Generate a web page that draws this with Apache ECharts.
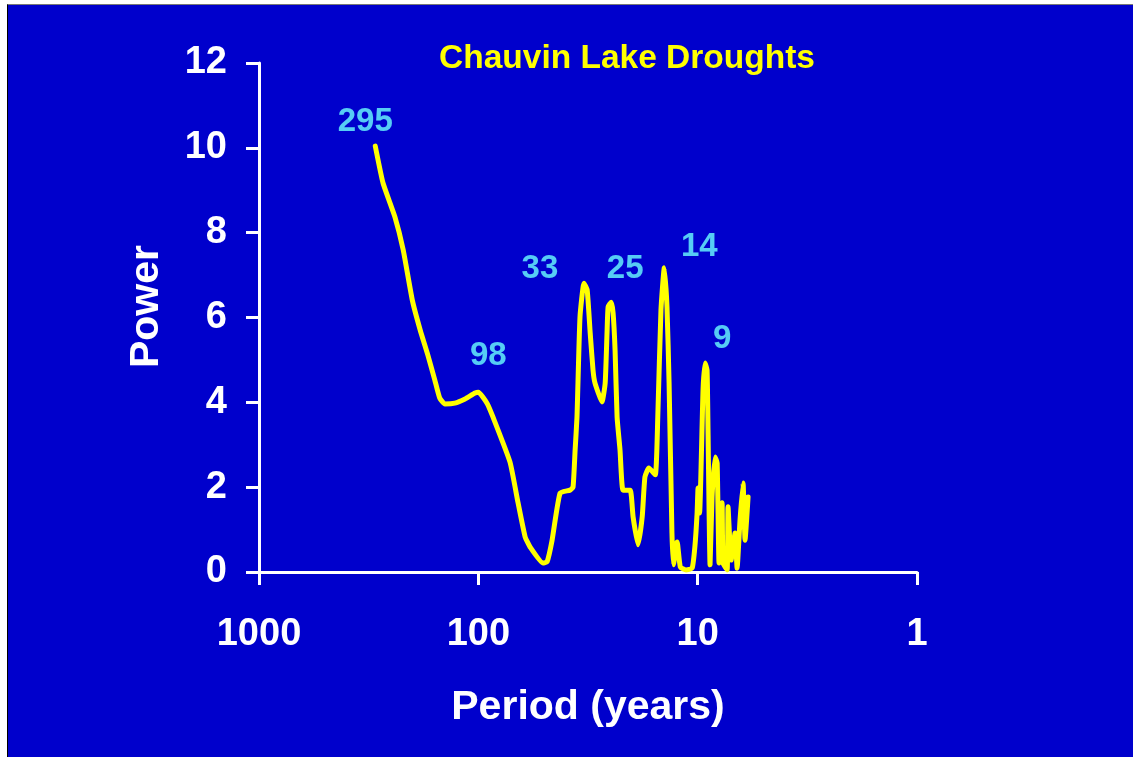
<!DOCTYPE html>
<html>
<head>
<meta charset="utf-8">
<script src="https://cdn.jsdelivr.net/npm/echarts@6/dist/echarts.min.js"></script>
<style>
  html, body { margin: 0; padding: 0; background: #ffffff; width: 1133px; height: 757px; overflow: hidden; }
  #bg { position: absolute; left: 7px; top: 4px; width: 1126px; height: 753px; background: #0000CC;
        border-left: 1px solid #000; border-top: 1px solid #777; box-sizing: border-box; }
  #chart { position: absolute; left: 0; top: 0; width: 1133px; height: 757px; }
</style>
</head>
<body>
<div id="bg"></div>
<div id="chart"></div>
<script>
// ---- data ----
const titleText = 'Chauvin Lake Droughts';
const xAxisName = 'Period (years)';
const yAxisName = 'Power';

const periods = [295, 272, 240, 220, 200, 184, 170, 158, 150, 142, 128, 115, 103.5, 100,
  91.3, 85.7, 71.7, 65.9, 61.2, 58.1, 50.7, 48.6, 46.1, 42.4, 38.2, 37.0, 36.2, 35.5, 34.4,
  33.0, 31.9, 30.9, 30.0, 29.4, 27.3, 26.4, 25.9, 25.6, 24.8, 24.3, 23.8, 23.3, 22.6, 21.9,
  20.3, 19.7, 18.7, 17.9, 17.4, 16.7, 15.6, 15.2, 14.7, 14.2, 13.8, 13.5, 13.1, 12.9, 12.4,
  12.0, 11.3, 10.6, 10.3, 10.06, 9.96, 9.8, 9.45, 9.25, 9.06, 8.97, 8.78, 8.60, 8.33, 8.15,
  7.99, 7.74, 7.66, 7.34, 7.27, 7.04, 6.75, 6.61, 6.41, 6.21, 6.08, 5.89];
const powers = [10.04, 9.17, 8.37, 7.59, 6.41, 5.70, 5.12, 4.53, 4.10, 3.96, 3.98, 4.08, 4.22, 4.24,
  3.98, 3.65, 2.59, 1.63, 0.83, 0.59, 0.21, 0.24, 0.75, 1.86, 1.93, 2.00, 2.88, 3.65, 6.01,
  6.81, 6.65, 5.63, 4.76, 4.46, 4.01, 4.46, 5.63, 6.25, 6.36, 6.11, 5.23, 3.65, 2.88, 1.93,
  1.93, 1.30, 0.64, 1.30, 2.24, 2.45, 2.29, 3.65, 6.18, 7.17, 6.25, 4.46, 0.92, 0.17, 0.71,
  0.12, 0.05, 0.09, 0.59, 1.39, 1.98, 1.39, 4.30, 4.93, 4.76, 3.35, 0.17, 1.77, 2.71, 2.57,
  0.21, 1.63, 0.21, 0.05, 1.54, 0.28, 0.92, 0.09, 1.23, 2.10, 0.75, 1.77];

const peakLabels = ['295', '98', '33', '25', '14', '9'];
const peakPeriods = [295, 100, 33.0, 24.8, 14.2, 9.25];
const peakPowers = [10.04, 4.24, 6.81, 6.36, 7.17, 4.93];

const xTickValues = [1000, 100, 10, 1];
const yTicks = [0, 2, 4, 6, 8, 10, 12];

// ---- styling (not data) ----
const FONT = 'Liberation Sans, Arial, Helvetica, sans-serif';
const labelOffsets = [[-10, -24], [10, -36], [-44, -14], [14, -33], [35, -21], [17, -24]];

const lineData = periods.map((p, i) => [p, powers[i]]);
const peakData = peakPeriods.map((p, i) => ({
  value: [p, peakPowers[i]],
  label: { show: true, formatter: peakLabels[i], offset: labelOffsets[i] }
}));

const chart = echarts.init(document.getElementById('chart'), null, { renderer: 'canvas' });
chart.setOption({
  backgroundColor: 'transparent',
  animation: false,
  title: {
    text: titleText, left: 434, top: 37,
    textStyle: { color: '#FFFF00', fontFamily: FONT, fontWeight: 'bold', fontSize: 33.5 }
  },
  grid: { left: 259, right: 216, top: 63, bottom: 185, containLabel: false },
  xAxis: {
    type: 'log', logBase: 10, min: 1, max: 1000, inverse: true,
    name: xAxisName, nameLocation: 'middle', nameGap: 115,
    nameTextStyle: { color: '#fff', fontFamily: FONT, fontWeight: 'bold', fontSize: 41 },
    axisLine: { show: true, onZero: false, lineStyle: { color: '#fff', width: 3 } },
    axisTick: { show: true, length: 13, inside: false, lineStyle: { color: '#fff', width: 3 } },
    axisLabel: { color: '#fff', fontFamily: FONT, fontWeight: 'bold', fontSize: 38, margin: 44,
      showMinLabel: true, showMaxLabel: true,
      formatter: v => String(Math.round(v)) },
    minorTick: { show: false },
    splitLine: { show: false }
  },
  yAxis: {
    type: 'value', min: yTicks[0], max: yTicks[yTicks.length - 1], interval: 2,
    name: yAxisName, nameLocation: 'middle', nameGap: 92, nameRotate: 90,
    nameTextStyle: { color: '#fff', fontFamily: FONT, fontWeight: 'bold', fontSize: 41,
      padding: [0, 0, 0, 22] },
    axisLine: { show: true, lineStyle: { color: '#fff', width: 3 } },
    axisTick: { show: true, length: 13, inside: false, lineStyle: { color: '#fff', width: 3 } },
    axisLabel: { color: '#fff', fontFamily: FONT, fontWeight: 'bold', fontSize: 38, margin: 32 },
    splitLine: { show: false }
  },
  series: [
    {
      type: 'line', data: lineData, showSymbol: false, symbol: 'none', smooth: 0.15,
      lineStyle: { color: '#FFFF00', width: 5, join: 'round', cap: 'round' },
      z: 3
    },
    {
      type: 'scatter', data: peakData, symbolSize: 0, silent: true,
      label: { show: true, position: 'inside', color: '#6CFFFF', fontFamily: FONT,
        fontWeight: 'bold', fontSize: 33 },
      z: 4
    }
  ]
});
</script>
</body>
</html>
